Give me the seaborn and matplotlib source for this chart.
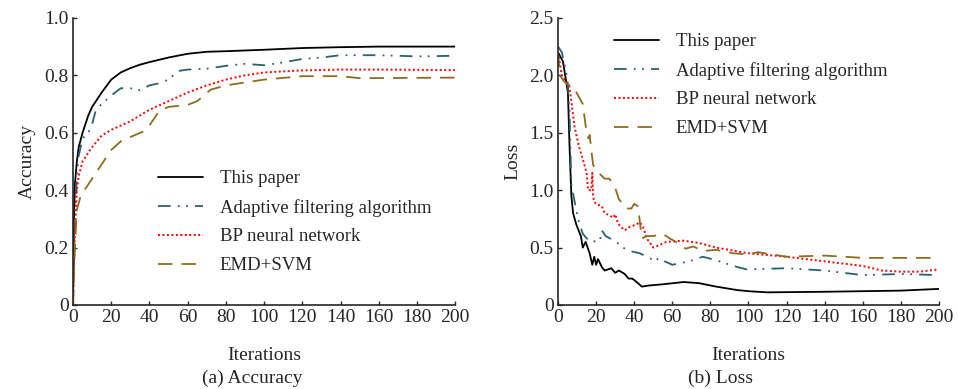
import matplotlib
matplotlib.use("Agg")
import matplotlib.pyplot as plt
import seaborn as sns
import numpy as np
import pandas as pd

sns.set_style("ticks")
plt.rcParams['font.family'] = ['Liberation Serif', 'DejaVu Serif']

# ---- (a) accuracy data ----
acc_ours_x = [0, 0.5, 1, 2, 3, 5, 8, 10, 15, 20, 25, 30, 35, 40, 50, 60, 70, 80, 100, 120, 140, 160, 180, 200]
acc_ours_y = [0, 0.3, 0.42, 0.5, 0.55, 0.6, 0.66, 0.69, 0.74, 0.785, 0.81, 0.825, 0.837, 0.846, 0.862, 0.875, 0.882, 0.884, 0.889, 0.895, 0.898, 0.9, 0.9, 0.9]

acc_adapt_x = [0, 1, 2, 3, 5, 8, 10, 12, 15, 20, 25, 30, 35, 40, 45, 50, 55, 60, 70, 80, 90, 100, 110, 120, 130, 140, 160, 180, 200]
acc_adapt_y = [0, 0.3, 0.45, 0.52, 0.58, 0.6, 0.63, 0.68, 0.7, 0.73, 0.755, 0.755, 0.748, 0.765, 0.772, 0.785, 0.815, 0.82, 0.823, 0.833, 0.84, 0.835, 0.845, 0.857, 0.862, 0.87, 0.87, 0.866, 0.868]

acc_bp_x = [0, 1, 2, 3, 5, 10, 15, 20, 30, 40, 50, 60, 70, 80, 90, 100, 120, 140, 160, 200]
acc_bp_y = [0, 0.25, 0.4, 0.45, 0.5, 0.55, 0.59, 0.61, 0.64, 0.68, 0.71, 0.74, 0.765, 0.785, 0.8, 0.81, 0.817, 0.82, 0.82, 0.818]

acc_emd_x = [0, 1, 2, 4, 10, 15, 20, 25, 30, 37, 40, 45, 50, 60, 65, 72, 80, 100, 120, 140, 150, 200]
acc_emd_y = [0, 0.2, 0.33, 0.38, 0.44, 0.49, 0.54, 0.57, 0.585, 0.605, 0.625, 0.675, 0.69, 0.697, 0.71, 0.75, 0.765, 0.785, 0.797, 0.797, 0.79, 0.792]

# ---- (b) loss data ----
loss_ours_x = [0, 2.6, 5.2, 6, 7, 7.9, 9.6, 12, 13, 14.5, 16.6, 18, 19, 20, 21, 23, 24.5, 28, 30, 32, 35, 37, 39, 42, 44, 48, 55, 66, 74, 83, 94, 100, 110, 140, 160, 180, 200]
loss_ours_y = [2.2, 2.12, 1.85, 1.4, 0.95, 0.8, 0.7, 0.6, 0.5, 0.55, 0.45, 0.35, 0.42, 0.35, 0.4, 0.33, 0.3, 0.32, 0.28, 0.3, 0.27, 0.23, 0.23, 0.19, 0.16, 0.17, 0.18, 0.2, 0.19, 0.16, 0.13, 0.12, 0.11, 0.115, 0.12, 0.125, 0.14]

loss_adapt_x = [0, 2, 4, 5, 6, 7, 8.7, 10.5, 13, 16.6, 22, 23, 25, 30.6, 34, 37.6, 43, 48, 50.7, 53, 56, 60, 66, 71, 76, 83, 92, 99, 120, 140, 160, 180, 200]
loss_adapt_y = [2.25, 2.2, 2.05, 1.95, 1.7, 1.05, 0.9, 0.75, 0.62, 0.55, 0.56, 0.65, 0.6, 0.55, 0.5, 0.47, 0.45, 0.41, 0.38, 0.41, 0.38, 0.35, 0.37, 0.39, 0.42, 0.39, 0.34, 0.31, 0.32, 0.3, 0.26, 0.27, 0.26]

loss_bp_x = [0, 2, 4, 6, 8.7, 11, 13, 15, 15.8, 17.5, 18, 18.4, 19, 20, 23, 24.5, 27, 29, 30, 31.5, 33, 35, 37.6, 41, 43, 44.6, 47, 50, 53, 57, 66, 74, 83, 100, 120, 140, 160, 170, 180, 190, 200]
loss_bp_y = [2.2, 2.0, 1.95, 1.9, 1.55, 1.38, 1.27, 1.15, 1.0, 1.0, 1.15, 0.95, 0.9, 0.88, 0.86, 0.8, 0.78, 0.76, 0.79, 0.71, 0.68, 0.65, 0.68, 0.7, 0.72, 0.68, 0.57, 0.5, 0.52, 0.55, 0.56, 0.54, 0.5, 0.45, 0.42, 0.38, 0.34, 0.3, 0.29, 0.29, 0.31]

loss_emd_x = [0, 1, 3, 5, 8, 13, 15, 16, 16.6, 18.4, 20, 22, 24.5, 27, 30, 32, 36, 38.5, 40, 42, 43, 44, 46.6, 50, 55, 58.6, 64, 67, 71, 76, 83, 92, 100, 105, 120, 140, 160, 200]
loss_emd_y = [2.2, 2.0, 1.95, 1.92, 1.9, 1.75, 1.5, 1.45, 1.48, 1.22, 1.18, 1.14, 1.1, 1.1, 1.02, 0.92, 0.84, 0.84, 0.88, 0.86, 0.72, 0.58, 0.6, 0.6, 0.62, 0.58, 0.53, 0.49, 0.51, 0.47, 0.48, 0.45, 0.44, 0.46, 0.42, 0.43, 0.41, 0.41]

labels = ["This paper", "Adaptive filtering algorithm", "BP neural network", "EMD+SVM"]
colors = ["#000000", "#2b6070", "#ff0000", "#8c6d1c"]
dashes = [None, (7, 4, 1, 3.5, 1, 4), (1, 1.3), (8, 5)]
widths = [1.3, 1.3, 1.4, 1.3]

fig = plt.figure(figsize=(9.58, 3.89), dpi=100)
ax1 = fig.add_axes([0.0762, 0.216, 0.399, 0.738])
ax2 = fig.add_axes([0.5825, 0.216, 0.3975, 0.738])

acc_sets = [(acc_ours_x, acc_ours_y), (acc_adapt_x, acc_adapt_y), (acc_bp_x, acc_bp_y), (acc_emd_x, acc_emd_y)]
loss_sets = [(loss_ours_x, loss_ours_y), (loss_adapt_x, loss_adapt_y), (loss_bp_x, loss_bp_y), (loss_emd_x, loss_emd_y)]

for ax, sets in [(ax1, acc_sets), (ax2, loss_sets)]:
    for (xs, ys), lab, c, d, w in zip(sets, labels, colors, dashes, widths):
        sns.lineplot(x=xs, y=ys, ax=ax, color=c, lw=w, label=lab, sort=False)
        if d is not None:
            ax.get_lines()[-1].set_dashes(d)

for ax in (ax1, ax2):
    sns.despine(ax=ax)
    ax.set_xlim(0, 200)
    ax.set_xticks(range(0, 201, 20))
    ax.tick_params(direction="in", length=3, width=1, labelsize=14, pad=3)
    for s in ("left", "bottom"):
        ax.spines[s].set_linewidth(1.2)
    ax.set_xlabel("Iterations", fontsize=14, labelpad=15)

ax1.set_ylim(0, 1.0)
ax1.set_yticks([0, 0.2, 0.4, 0.6, 0.8, 1.0])
ax1.set_yticklabels(["0", "0.2", "0.4", "0.6", "0.8", "1.0"])
ax1.set_ylabel("Accuracy", fontsize=14, labelpad=6)

ax2.set_ylim(0, 2.5)
ax2.set_yticks([0, 0.5, 1.0, 1.5, 2.0, 2.5])
ax2.set_yticklabels(["0", "0.5", "1.0", "1.5", "2.0", "2.5"])
ax2.set_ylabel("Loss", fontsize=14, labelpad=6)

leg_kw = dict(frameon=False, fontsize=13.5, handlelength=2.4, handletextpad=0.9,
              labelspacing=0.62, borderpad=0, borderaxespad=0, loc="upper left")
ax1.legend(bbox_to_anchor=(0.222, 0.47), **leg_kw)
ax2.legend(bbox_to_anchor=(0.147, 0.947), **leg_kw)

fig.text(0.263, 0.004, "(a) Accuracy", ha="center", va="bottom", fontsize=14)
fig.text(0.752, 0.004, "(b) Loss", ha="center", va="bottom", fontsize=14)

fig.savefig("out.png", dpi=100)
